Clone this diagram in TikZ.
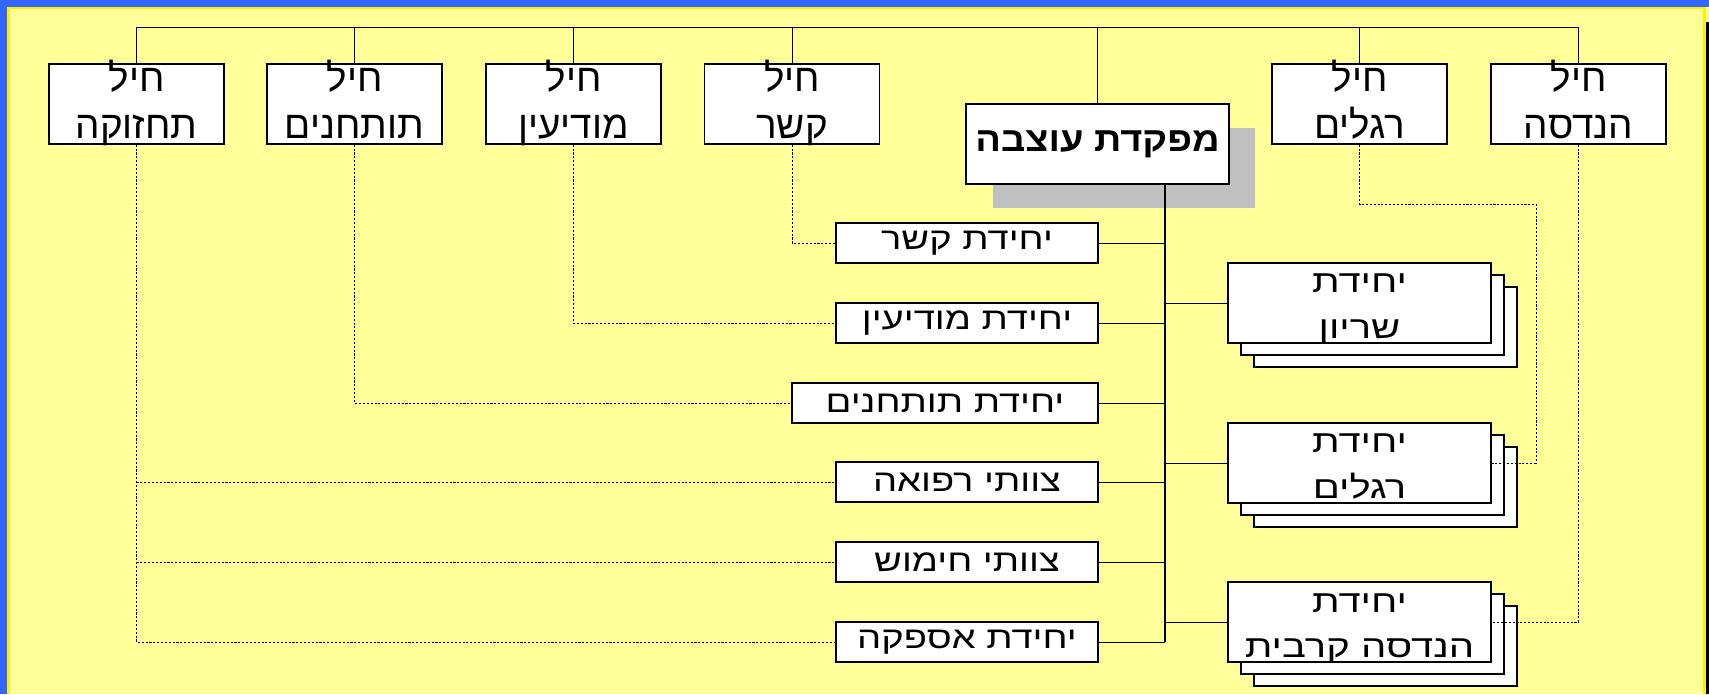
\documentclass[tikz,border=0pt]{standalone}
\usepackage{fontspec}
\newfontfamily\hebfont[Script=Hebrew]{Liberation Sans}
\newfontfamily\hebunit[Script=Hebrew,FakeStretch=1.24]{Liberation Sans}
\newfontfamily\hebpile[Script=Hebrew,FakeStretch=1.28]{Liberation Sans}
\newfontfamily\hebhq[Script=Hebrew,FakeStretch=1.11]{Liberation Sans}
\TeXXeTstate=1
\definecolor{bgyellow}{RGB}{255,255,153}
\definecolor{frameblue}{RGB}{51,102,255}
\definecolor{shadowgray}{RGB}{192,192,192}
\newcommand{\heb}[1]{\beginR #1\endR}
\newcommand{\twolines}[3][18pt]{\rule{0pt}{#1}\heb{#2}\\\heb{#3}\rule[-5pt]{0pt}{5pt}}

\begin{document}
\begin{tikzpicture}[x=0.02cm,y=-0.02cm,
  box/.style={draw,fill=white,line width=0.8pt,inner sep=0pt,align=center},
  corps/.style={box,inner ysep=-10pt,minimum width=3.5cm,minimum height=1.6cm,font=\hebfont\fontsize{22}{26.7}\selectfont},
  unit/.style={box,minimum width=5.24cm,minimum height=0.8cm,font=\hebunit\fontsize{17.5}{20}\selectfont},
  pile/.style={box,inner ysep=-10pt,minimum width=5.26cm,minimum height=1.6cm,font=\hebpile\fontsize{17.8}{26}\selectfont},
  link/.style={line width=0.5pt},
  dots/.style={line width=0.5pt,dash pattern=on 1.2pt off 1pt}]
\useasboundingbox (0,0) rectangle (1709,694);
% frame
\fill[bgyellow] (0,0) rectangle (1709,694);
\fill[yellow] (7,7) rectangle (1706,9);
\fill[yellow] (7,7) rectangle (10,694);
\fill[yellow] (1703,7) rectangle (1706,694);
\fill[black] (1706,22) rectangle (1709,694);
\fill[frameblue] (0,0) rectangle (1709,7);
\fill[frameblue] (0,0) rectangle (7,694);

% top row
\node[corps] (t1) at (136.5,104) {\twolines{חיל}{תחזוקה}};
\node[corps] (t2) at (354.5,104) {\twolines{חיל}{תותחנים}};
\node[corps] (t3) at (573.5,104) {\twolines{חיל}{מודיעין}};
\node[corps] (t4) at (792,104) {\twolines{חיל}{קשר}};
\node[corps] (t5) at (1359.5,104) {\twolines{חיל}{רגלים}};
\node[corps] (t6) at (1578.5,104) {\twolines{חיל}{הנדסה}};

% headquarters
\fill[shadowgray] (993,128) rectangle (1255,208);
\node[box,line width=1.2pt,minimum width=5.26cm,minimum height=1.6cm,
  font=\hebhq\bfseries\fontsize{19.5}{23}\selectfont] (hq) at (1097.5,144) {\heb{מפקדת עוצבה}};

% units on the left
\node[unit] (u1) at (967,243) {\heb{יחידת קשר}};
\node[unit] (u2) at (967,323) {\heb{יחידת מודיעין}};
\node[unit,minimum width=6.12cm] (u3) at (945,403) {\heb{יחידת תותחנים}};
\node[unit] (u4) at (967,482) {\heb{צוותי רפואה}};
\node[unit] (u5) at (967,562) {\heb{צוותי חימוש}};
\node[unit] (u6) at (967,642) {\heb{יחידת אספקה}};

% stacked units on the right
\foreach \n/\y/\a/\b in {s1/303/יחידת/שריון,s2/463/יחידת/רגלים,s3/622/יחידת/הנדסה קרבית}{
  \node[pile] (\n c) at (1385.5,\y+24) {};
  \node[pile] (\n b) at (1372.5,\y+12) {};
  \node[pile] (\n) at (1359.5,\y) {\twolines[19.6pt]{\a}{\b}};
}

% command lines
\coordinate (bus) at (0,27);
\coordinate (spine) at (1165,0);
\draw[link] (t1.north) |- (t6.north |- bus) -- (t6.north);
\foreach \t in {t2,t3,t4,t5,hq}
  \draw[link] (\t.north) -- (\t.north |- bus);
\draw[line width=1pt] (hq.south -| spine) -- (u6.east -| spine);
\foreach \u in {u1,u2,u3,u4,u5,u6}
  \draw[link] (\u.east) -- (\u.east -| spine);
\foreach \s in {s1,s2,s3}
  \draw[link] (spine |- \s.west) -- (\s.west);

% professional lines
\draw[dots] (t4.south) |- (u1.west);
\draw[dots] (t3.south) |- (u2.west);
\draw[dots] (t2.south) |- (u3.west);
\draw[dots] (t1.south) |- (u6.west);
\draw[dots] (t1.south |- u4.west) -- (u4.west);
\draw[dots] (t1.south |- u5.west) -- (u5.west);
\coordinate (bend) at (1536,204);
\draw[dots] (t5.south) |- (bend) |- (s2.east);
\draw[dots] (t6.south) |- (s3.east);
\end{tikzpicture}
\end{document}
